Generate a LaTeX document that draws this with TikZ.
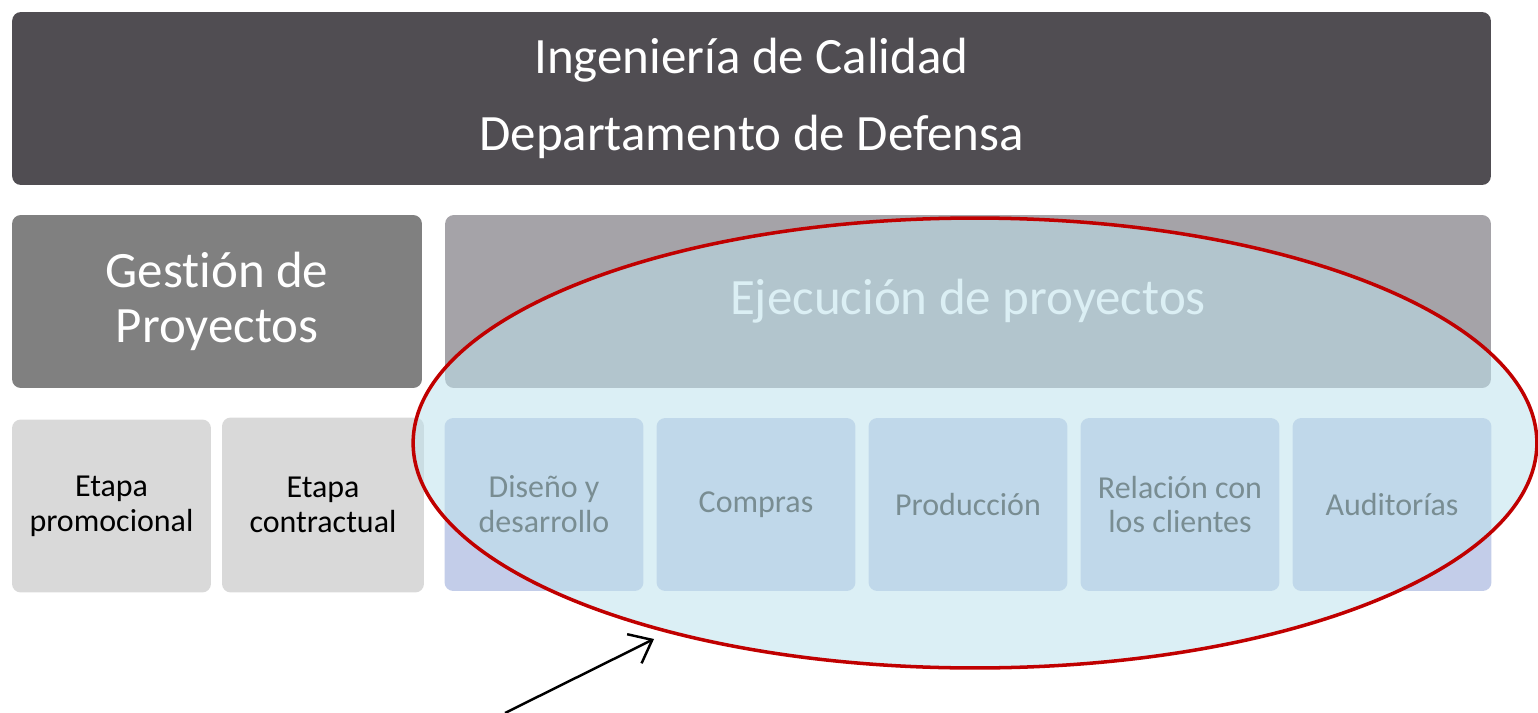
\documentclass[tikz,border=0pt]{standalone}
\usepackage{fontspec}
\setmainfont{Carlito}[Ligatures=NoCommon]
\usepackage{tikz}
\usepackage{xcolor}
\definecolor{darkslate}{RGB}{80,77,82}
\definecolor{midgray}{RGB}{128,128,128}
\definecolor{softgray}{RGB}{165,163,168}
\definecolor{palegray}{RGB}{217,217,217}
\definecolor{lavender}{RGB}{195,205,233}
\definecolor{paleteal}{RGB}{190,226,236}
\definecolor{deepred}{RGB}{192,0,0}
\usetikzlibrary{shapes.geometric,positioning,arrows.meta}

\begin{document}
\begin{tikzpicture}[
	x=0.02cm, y=-0.02cm,
	block/.style={
		rectangle,            % shape
		rounded corners=5pt,  % slight rounding
		inner sep=0pt,        % padding
		align=center
	},
	bigbox/.style={
		block,
		minimum height=3.46cm,
		text=white,
		font=\fontsize{29}{31}\selectfont
	},
	smallbox/.style={
		block,
		minimum width=3.98cm,
		minimum height=3.46cm,
		font=\fontsize{18.2}{19.8}\selectfont
	}
	]
	\useasboundingbox (0,0) rectangle (1538,713);

	% header
	\node[bigbox, fill=darkslate, minimum width=29.58cm,
	font=\fontsize{29}{44}\selectfont] (calidad) at (751.5,98.5)
	{Ingeniería de Calidad\\Departamento de Defensa};

	% second row
	\node[bigbox, fill=midgray, minimum width=8.2cm] (gestion) at (217,301.5)
	{Gestión de\\Proyectos};
	\node[bigbox, fill=softgray, minimum width=20.92cm] (ejecucion) at (968,301.5)
	{Ejecución de proyectos};

	% stages
	\node[smallbox, fill=palegray] (promo) at (111.5,506) {Etapa\\promocional};
	\node[smallbox, fill=palegray, minimum width=4.04cm, minimum height=3.5cm]
	(contrato) at (323,505) {Etapa\\contractual};

	% execution areas
	\foreach \name/\txt [count=\i from 0] in {diseno/{Diseño y\\desarrollo},
		compras/Compras, produccion/Producción,
		clientes/{Relación con\\los clientes}, auditorias/Auditorías}
	\node[smallbox, fill=lavender, text=black!85] (\name) at (544+212*\i,504.5) {\txt};

	% highlight
	\node[
	ellipse,              % shape
	draw=deepred,         % red border
	line width=2pt,       % border thickness
	fill=paleteal,        % light teal fill
	fill opacity=0.55,    % see-through
	draw opacity=1,
	minimum width=22.48cm,
	minimum height=9cm
	] (zona) at (975,443) {};

	\coordinate (origen) at (505,713);
	\coordinate (punta) at (654,639);
	\draw[line width=1.4pt, -{Straight Barb[length=4mm,width=6.5mm]}] (origen) -- (punta);
\end{tikzpicture}
\end{document}
